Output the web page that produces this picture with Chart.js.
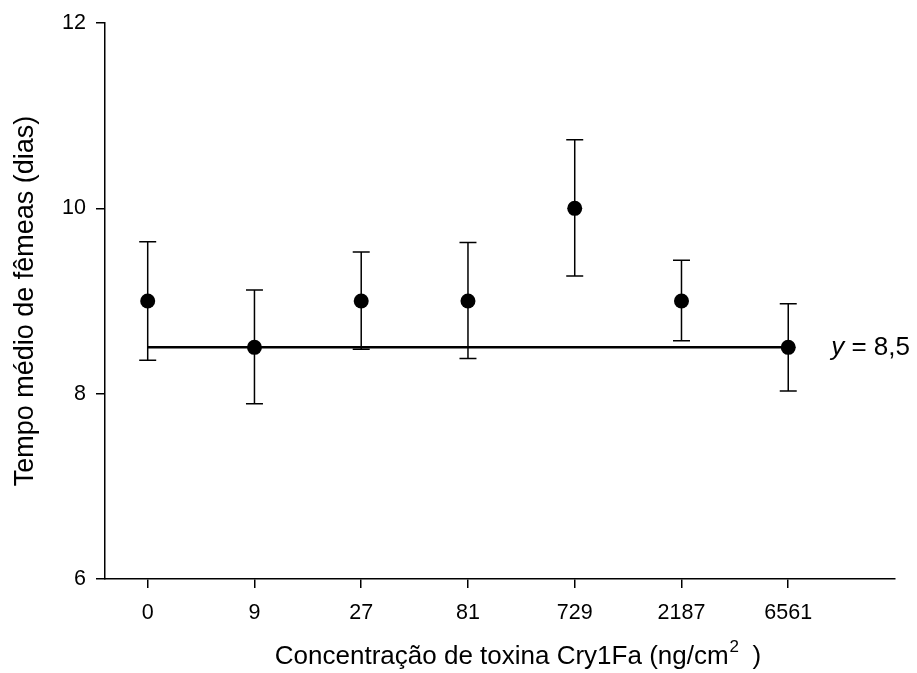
<!DOCTYPE html>
<html>
<head>
<meta charset="utf-8">
<script src="https://cdn.jsdelivr.net/npm/chart.js@4.4.0/dist/chart.umd.min.js"></script>
<style>
html, body { margin: 0; padding: 0; background: #fff; }
</style>
</head>
<body>
<canvas id="chart" width="917" height="673"></canvas>
<script>
const concentrations = ["0", "9", "27", "81", "729", "2187", "6561"];
const meanDays = [9, 8.5, 9, 9, 10, 9, 8.5];
const upperBar = [9.64, 9.12, 9.53, 9.63, 10.74, 9.44, 8.97];
const lowerBar = [8.36, 7.89, 8.48, 8.38, 9.27, 8.57, 8.03];
const fitValue = 8.5;
const yTicks = [6, 8, 10, 12];

const FONT = "Arial, 'Liberation Sans', sans-serif";

// error bars, the "y = 8,5" label and the x title (with a real superscript)
const extras = {
    id: "extras",
    beforeDatasetsDraw(chart) {
        const { ctx, scales: { x, y } } = chart;
        ctx.save();
        ctx.strokeStyle = "#000";
        ctx.lineWidth = 1.5;
        meanDays.forEach((m, i) => {
            const px = x.getPixelForValue(i);
            const top = y.getPixelForValue(upperBar[i]);
            const bot = y.getPixelForValue(lowerBar[i]);
            ctx.beginPath();
            ctx.moveTo(px, top); ctx.lineTo(px, bot);
            ctx.moveTo(px - 8.5, top); ctx.lineTo(px + 8.5, top);
            ctx.moveTo(px - 8.5, bot); ctx.lineTo(px + 8.5, bot);
            ctx.stroke();
        });
        ctx.restore();
    },
    afterDraw(chart) {
        const { ctx, scales: { x, y } } = chart;
        ctx.save();
        ctx.fillStyle = "#000";

        // fitted value label
        const px = x.getPixelForValue(concentrations.length - 1) + 43;
        const py = y.getPixelForValue(fitValue);
        ctx.textBaseline = "middle";
        ctx.font = "italic 26px " + FONT;
        ctx.fillText("y", px, py);
        const w = ctx.measureText("y").width;
        ctx.font = "26px " + FONT;
        ctx.fillText(" = " + String(fitValue).replace(".", ","), px + w, py);

        // x axis title
        const main = "Concentração de toxina Cry1Fa (ng/cm";
        const sup = "2";
        const tail = "  )";
        ctx.textBaseline = "alphabetic";
        ctx.font = "26px " + FONT;
        const w1 = ctx.measureText(main).width;
        const w3 = ctx.measureText(tail).width;
        ctx.font = "17px " + FONT;
        const w2 = ctx.measureText(sup).width;
        const base = 664;
        let tx = 518 - (w1 + w2 + w3) / 2;
        ctx.font = "26px " + FONT;
        ctx.fillText(main, tx, base);
        tx += w1 + 1;
        ctx.font = "17px " + FONT;
        ctx.fillText(sup, tx, base - 12);
        tx += w2 - 1;
        ctx.font = "26px " + FONT;
        ctx.fillText(tail, tx, base);
        ctx.restore();
    }
};

new Chart(document.getElementById("chart"), {
    data: {
        datasets: [
            {
                type: "scatter",
                data: meanDays.map((m, i) => ({ x: i, y: m })),
                pointRadius: 7.5,
                pointBackgroundColor: "#000",
                pointBorderWidth: 0,
                order: 1
            },
            {
                type: "line",
                data: [{ x: 0, y: fitValue }, { x: concentrations.length - 1, y: fitValue }],
                borderColor: "#000",
                borderWidth: 2.5,
                pointRadius: 0,
                order: 2
            }
        ]
    },
    options: {
        responsive: false,
        animation: false,
        layout: { padding: { top: 23, right: 22, bottom: 0, left: 0 } },
        plugins: { legend: { display: false }, tooltip: { enabled: false } },
        scales: {
            x: {
                type: "linear",
                min: -0.4,
                max: 7.0,
                afterBuildTicks: scale => { scale.ticks = concentrations.map((c, i) => ({ value: i })); },
                afterFit: scale => { scale.height = 94; },
                ticks: {
                    callback: v => concentrations[v],
                    font: { family: FONT, size: 21.5 },
                    color: "#000",
                    padding: 12,
                    maxRotation: 0
                },
                grid: { drawOnChartArea: false, drawTicks: true, tickLength: 9, color: "#000", lineWidth: 1.5 },
                border: { display: true, color: "#000", width: 1.5 }
            },
            y: {
                min: 6,
                max: 12,
                afterBuildTicks: scale => { scale.ticks = yTicks.map(v => ({ value: v })); },
                afterFit: scale => { scale.width = 105; },
                ticks: {
                    font: { family: FONT, size: 21.5 },
                    color: "#000",
                    padding: 10
                },
                grid: { drawOnChartArea: false, drawTicks: true, tickLength: 9, color: "#000", lineWidth: 1.5 },
                border: { display: true, color: "#000", width: 1.5 },
                title: {
                    display: true,
                    text: "Tempo médio de fêmeas (dias)",
                    font: { family: FONT, size: 27 },
                    color: "#000",
                    padding: { top: 9, bottom: 0 }
                }
            }
        }
    },
    plugins: [extras]
});
</script>
</body>
</html>
